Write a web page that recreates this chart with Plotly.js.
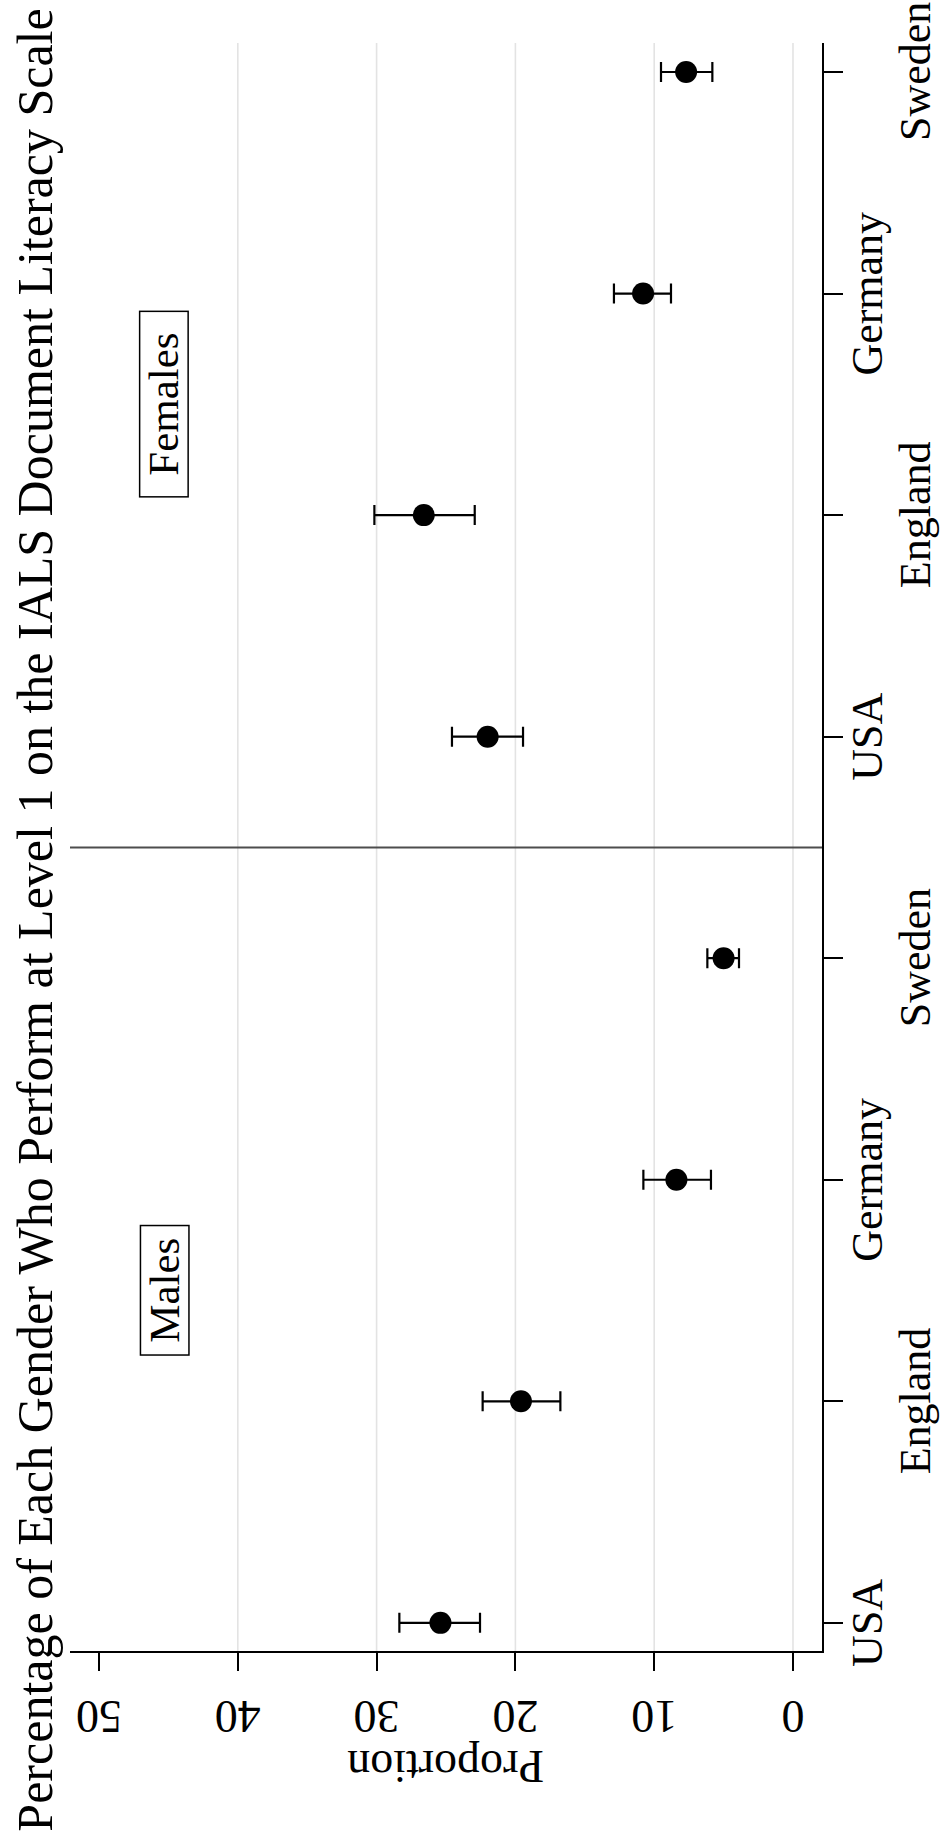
<!DOCTYPE html>
<html><head><meta charset="utf-8">
<script src="https://cdn.plot.ly/plotly-3.0.1.min.js"></script>
<style>html,body{margin:0;padding:0;background:#fff}#chart{width:940px;height:1839px}</style>
</head><body><div id="chart"></div>
<script>
const countries = ['USA', 'England', 'Germany', 'Sweden'];
const genders = ['Males', 'Females'];
const maleEst = [25.4, 19.6, 8.4, 5.0];
const maleLow = [22.55, 16.76, 5.91, 3.89];
const maleHigh = [28.36, 22.36, 10.78, 6.17];
const femaleEst = [22.0, 26.6, 10.8, 7.7];
const femaleLow = [19.45, 22.93, 8.79, 5.81];
const femaleHigh = [24.57, 30.16, 12.90, 9.51];
const valueTicks = [0, 10, 20, 30, 40, 50];
const gridVals = [0, 10, 20, 30, 40];
const titleText = 'Percentage of Each Gender Who Perform at Level 1 on the IALS Document Literacy Scale';
const valueAxisTitle = 'Proportion';

const FONT = 'Liberation Serif, Times New Roman, serif';
const nC = countries.length;
const groups = [
  {name: genders[0], est: maleEst, low: maleLow, high: maleHigh},
  {name: genders[1], est: femaleEst, low: femaleLow, high: femaleHigh}
];

const traces = groups.map((g, gi) => ({
  type: 'scatter', mode: 'markers', name: g.name, showlegend: false,
  x: g.est,
  y: countries.map((c, ci) => gi * nC + ci),
  marker: {color: '#000', size: 22},
  error_x: {
    type: 'data', symmetric: false,
    array: g.est.map((v, i) => g.high[i] - v),
    arrayminus: g.est.map((v, i) => v - g.low[i]),
    color: '#000', thickness: 2.2, width: 10
  },
  hoverinfo: 'x+y'
}));

const allPos = [], allText = [];
groups.forEach((g, gi) => countries.forEach((c, ci) => { allPos.push(gi * nC + ci); allText.push(c); }));

const yRange = [-0.127, 2 * nC - 1 + 0.131];

const shapes = gridVals.map(v => ({
  type: 'line', xref: 'x', yref: 'paper', x0: v, x1: v, y0: 0, y1: 1,
  line: {color: '#e3e3e3', width: 1.6}, layer: 'below'
}));
shapes.push({
  type: 'line', xref: 'paper', yref: 'y', x0: 0, x1: 1, y0: nC - 0.5, y1: nC - 0.5,
  line: {color: '#4d4d4d', width: 2}
});

const annotations = [
  {text: titleText, xref: 'paper', yref: 'paper', x: -0.047, y: 0.4546, xanchor: 'center', yanchor: 'middle',
   textangle: -90, showarrow: false, font: {family: FONT, size: 50, color: '#000'}},
  {text: valueAxisTitle, xref: 'paper', yref: 'paper', x: 0.5, y: -0.0715, xanchor: 'center', yanchor: 'middle',
   textangle: 180, showarrow: false, font: {family: FONT, size: 46, color: '#000'}},
  {text: genders[1], xref: 'x', yref: 'y', x: 45.3, y: nC + 1.5, xanchor: 'center', yanchor: 'middle',
   textangle: -90, showarrow: false, width: 184, height: 47, borderpad: 0,
   bordercolor: '#000', borderwidth: 1.5, bgcolor: '#fff', font: {family: FONT, size: 43, color: '#000'}},
  {text: genders[0], xref: 'x', yref: 'y', x: 45.3, y: 1.5, xanchor: 'center', yanchor: 'middle',
   textangle: -90, showarrow: false, width: 128, height: 47, borderpad: 0,
   bordercolor: '#000', borderwidth: 1.5, bgcolor: '#fff', font: {family: FONT, size: 43, color: '#000'}}
];
// category tick labels, staggered like the original (near / far from the axis)
allPos.forEach((p, i) => {
  annotations.push({
    text: allText[i], xref: 'paper', yref: 'y', x: (i % 2 === 0) ? 1.0612 : 1.1237, y: p,
    xanchor: 'center', yanchor: 'middle', textangle: -90, showarrow: false,
    font: {family: FONT, size: 44, color: '#000'}
  });
});

const layout = {
  width: 940, height: 1839,
  margin: {l: 70, r: 118, t: 43, b: 188},
  paper_bgcolor: '#fff', plot_bgcolor: '#fff',
  showlegend: false,
  font: {family: FONT, color: '#000'},
  xaxis: {
    range: [52.09, -2.09], tickvals: valueTicks, ticktext: valueTicks.map(String),
    showgrid: false, zeroline: false, showline: true, linecolor: '#000', linewidth: 2,
    ticks: 'outside', ticklen: 18, tickwidth: 2, tickcolor: '#000',
    tickangle: 180, ticklabelstandoff: 21, tickfont: {family: FONT, size: 46, color: '#000'}
  },
  yaxis: {
    range: yRange, side: 'right', tickvals: allPos, showticklabels: false,
    showgrid: false, zeroline: false, showline: true, linecolor: '#000', linewidth: 2,
    ticks: 'outside', ticklen: 19, tickwidth: 2, tickcolor: '#000'
  },
  shapes: shapes,
  annotations: annotations
};

Plotly.newPlot('chart', traces, layout, {displayModeBar: false, staticPlot: true});
</script>
</body></html>
